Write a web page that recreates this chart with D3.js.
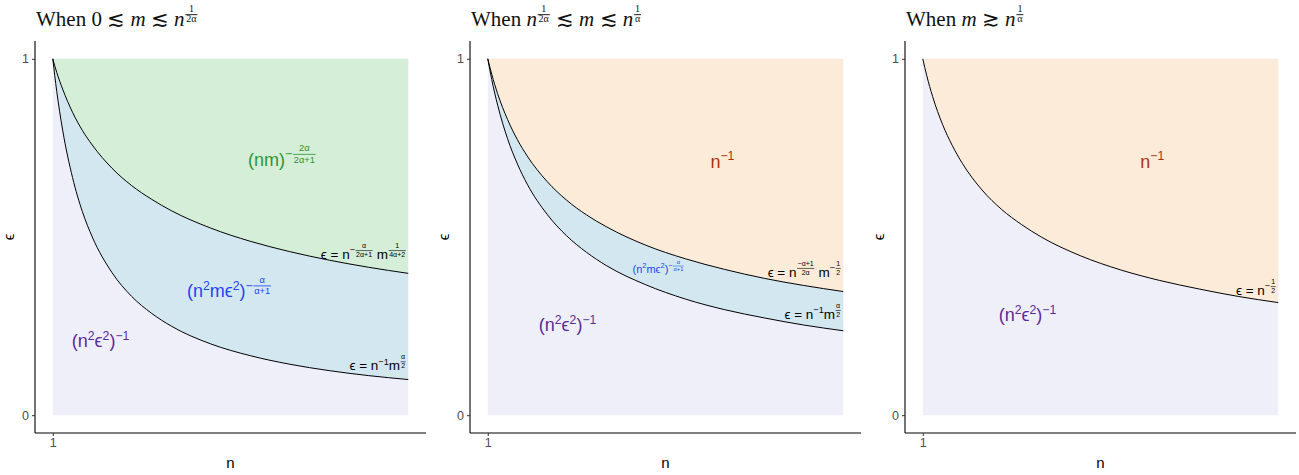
<!DOCTYPE html>
<html><head><meta charset="utf-8">
<script src="https://cdn.jsdelivr.net/npm/d3@7"></script>
<style>body{margin:0;background:#fff}svg{display:block}</style>
</head><body>
<svg id="chart" width="1299" height="475"></svg>
<script>
// ---- data ----
const nVals   = [1, 1.1, 1.25, 1.5, 1.75, 2, 2.5, 3, 3.5, 4, 5, 6, 7, 8, 9, 10];
const p1Upper = [1, 0.962, 0.915, 0.850, 0.799, 0.758, 0.693, 0.644, 0.606, 0.574, 0.525, 0.488, 0.459, 0.435, 0.415, 0.398];
const p1Lower = [1, 0.909, 0.800, 0.667, 0.571, 0.500, 0.400, 0.333, 0.286, 0.250, 0.200, 0.167, 0.143, 0.125, 0.111, 0.100];
const p2Upper = [1, 0.957, 0.902, 0.830, 0.773, 0.727, 0.656, 0.603, 0.562, 0.529, 0.477, 0.439, 0.409, 0.384, 0.364, 0.347];
const p2Lower = [1, 0.942, 0.870, 0.776, 0.705, 0.648, 0.564, 0.503, 0.457, 0.420, 0.366, 0.326, 0.296, 0.273, 0.253, 0.237];
const p3Curve = [1, 0.953, 0.894, 0.816, 0.756, 0.707, 0.632, 0.577, 0.535, 0.500, 0.447, 0.408, 0.378, 0.354, 0.333, 0.316];
const xTicks = [1], xTickLabels = ["1"];
const yTicks = [0, 1], yTickLabels = ["0", "1"];
const nDomain = [1, 10], epsDomain = [0, 1];

const C = {lav: "#efeffa", green: "#d5eed7", blue: "#d3e7f0", orange: "#fdebda",
  tGreen: "#2f9535", tBlue: "#1f44f2", tPurple: "#5a2a96", tRed: "#a5330c"};

const svg = d3.select("#chart");
const SANS = "'Liberation Sans', Arial, sans-serif";
const SERIF = "'Liberation Serif', 'DejaVu Serif', serif";

// small math-text layout helper
function mathText(g, x, y, parts, o) {
  const size = o.size;
  const fp = Object.assign({num: -0.8, bar: -0.63, den: -0.16, scale: 0.52}, o.frac || {});
  const grp = g.append("g").attr("fill", o.color || "#000").style("font-family", o.font || SANS);
  let cx = 0;
  const addText = (txt, xx, yy, fs, italic) => {
    const t = grp.append("text").attr("x", xx).attr("y", yy).style("font-size", fs + "px")
      .text(txt.replace(/ /g, "\u00a0"));
    if (italic) t.style("font-style", "italic");
    return t.node().getComputedTextLength();
  };
  parts.forEach(p => {
    if (typeof p === "string") { cx += addText(p, cx, 0, size, false); }
    else if (p.t !== undefined) { cx += addText(p.t, cx, 0, size, p.italic); }
    else if (p.sup !== undefined) { cx += addText(p.sup, cx, -size * 0.42, size * 0.68, p.italic); }
    else if (p.frac) {
      const fs = size * fp.scale;
      const pad = size * 0.08;
      const n = grp.append("text").attr("y", size * fp.num).style("font-size", fs + "px").attr("text-anchor", "middle").text(p.frac[0]);
      const d = grp.append("text").attr("y", size * fp.den).style("font-size", fs + "px").attr("text-anchor", "middle").text(p.frac[1]);
      const w = Math.max(n.node().getComputedTextLength(), d.node().getComputedTextLength()) + pad * 2;
      n.attr("x", cx + w / 2); d.attr("x", cx + w / 2);
      grp.append("line").attr("x1", cx + pad * 0.5).attr("x2", cx + w - pad * 0.5)
        .attr("y1", size * fp.bar).attr("y2", size * fp.bar)
        .attr("stroke", o.color || "#000").attr("stroke-width", Math.max(0.5, size * 0.045));
      cx += w;
    }
  });
  let dx = 0;
  if (o.anchor === "end") dx = -cx; else if (o.anchor === "middle") dx = -cx / 2;
  grp.attr("transform", `translate(${x + dx},${y})`);
}

const EPS = "\u03f5";
const panels = [
  {ox: 35,
   title: ["When 0 \u2272 ", {t: "m", italic: true}, " \u2272 ", {t: "n", italic: true}, {frac: ["1", "2\u03b1"]}],
   regions: [{lo: p1Upper, hi: null, fill: C.green}, {lo: p1Lower, hi: p1Upper, fill: C.blue}],
   curves: [p1Upper, p1Lower],
   labels: [
     {n: 6.81, e: 0.70, size: 18, color: C.tGreen, anchor: "middle", parts: ["(nm)", {sup: "\u2212"}, {frac: ["2\u03b1", "2\u03b1+1"]}]},
     {n: 5.47, e: 0.331, size: 18, color: C.tBlue, anchor: "middle", parts: ["(n", {sup: "2"}, "m" + EPS, {sup: "2"}, ")", {sup: "\u2212"}, {frac: ["\u03b1", "\u03b1+1"]}]},
     {n: 2.21, e: 0.19, size: 18, color: C.tPurple, anchor: "middle", parts: ["(n", {sup: "2"}, EPS, {sup: "2"}, ")", {sup: "\u22121"}]},
     {n: 9.95, e: 0.438, size: 13.5, color: "#000", anchor: "end", parts: [EPS + " = n", {sup: "\u2212"}, {frac: ["\u03b1", "2\u03b1+1"]}, " m", {frac: ["1", "4\u03b1+2"]}]},
     {n: 9.95, e: 0.126, size: 13.5, color: "#000", anchor: "end", parts: [EPS + " = n", {sup: "\u22121"}, "m", {frac: ["\u03b1", "2"]}]}
   ]},
  {ox: 470,
   title: ["When ", {t: "n", italic: true}, {frac: ["1", "2\u03b1"]}, " \u2272 ", {t: "m", italic: true}, " \u2272 ", {t: "n", italic: true}, {frac: ["1", "\u03b1"]}],
   regions: [{lo: p2Upper, hi: null, fill: C.orange}, {lo: p2Lower, hi: p2Upper, fill: C.blue}],
   curves: [p2Upper, p2Lower],
   labels: [
     {n: 6.94, e: 0.694, size: 18, color: C.tRed, anchor: "middle", parts: ["n", {sup: "\u22121"}]},
     {n: 5.32, e: 0.399, size: 11, color: C.tBlue, anchor: "middle", parts: ["(n", {sup: "2"}, "m" + EPS, {sup: "2"}, ")", {sup: "\u2212"}, {frac: ["\u03b1", "\u03b1+1"]}]},
     {n: 3.02, e: 0.236, size: 18, color: C.tPurple, anchor: "middle", parts: ["(n", {sup: "2"}, EPS, {sup: "2"}, ")", {sup: "\u22121"}]},
     {n: 9.95, e: 0.388, size: 13.5, color: "#000", anchor: "end", parts: [EPS + " = n", {frac: ["\u2212\u03b1+1", "2\u03b1"]}, " m", {sup: "\u2212"}, {frac: ["1", "2"]}]},
     {n: 9.95, e: 0.27, size: 13.5, color: "#000", anchor: "end", parts: [EPS + " = n", {sup: "\u22121"}, "m", {frac: ["\u03b1", "2"]}]}
   ]},
  {ox: 905,
   title: ["When ", {t: "m", italic: true}, " \u2273 ", {t: "n", italic: true}, {frac: ["1", "\u03b1"]}],
   regions: [{lo: p3Curve, hi: null, fill: C.orange}],
   curves: [p3Curve],
   labels: [
     {n: 6.81, e: 0.694, size: 18, color: C.tRed, anchor: "middle", parts: ["n", {sup: "\u22121"}]},
     {n: 3.65, e: 0.264, size: 18, color: C.tPurple, anchor: "middle", parts: ["(n", {sup: "2"}, EPS, {sup: "2"}, ")", {sup: "\u22121"}]},
     {n: 9.95, e: 0.337, size: 13.5, color: "#000", anchor: "end", parts: [EPS + " = n", {sup: "\u2212"}, {frac: ["1", "2"]}]}
   ]}
];

const PW = 391, yTop = 41, yBottom = 433;
panels.forEach(P => {
  const g = svg.append("g");
  const x = d3.scaleLinear().domain([nDomain[0] - 0.45, nDomain[1] + 0.45]).range([P.ox, P.ox + PW]);
  const y = d3.scaleLinear().domain([epsDomain[0] - 0.05, epsDomain[1] + 0.05]).range([yBottom, yTop]);

  g.append("rect").attr("x", x(nDomain[0])).attr("y", y(epsDomain[1]))
    .attr("width", x(nDomain[1]) - x(nDomain[0])).attr("height", y(epsDomain[0]) - y(epsDomain[1]))
    .attr("fill", C.lav);

  P.regions.forEach(r => {
    const data = nVals.map((n, i) => ({n, lo: r.lo[i], hi: r.hi ? r.hi[i] : epsDomain[1]}));
    const area = d3.area().x(d => x(d.n)).y0(d => y(d.lo)).y1(d => y(d.hi)).curve(d3.curveMonotoneX);
    g.append("path").attr("d", area(data)).attr("fill", r.fill);
  });
  P.curves.forEach(c => {
    const line = d3.line().x((d, i) => x(nVals[i])).y(d => y(d)).curve(d3.curveMonotoneX);
    g.append("path").attr("d", line(c)).attr("fill", "none").attr("stroke", "#000").attr("stroke-width", 1);
  });

  const xa = g.append("g").attr("transform", `translate(0,${yBottom})`)
    .call(d3.axisBottom(x).tickValues(xTicks).tickFormat((d, i) => xTickLabels[i]).tickSize(3).tickPadding(2));
  const ya = g.append("g").attr("transform", `translate(${P.ox},0)`)
    .call(d3.axisLeft(y).tickValues(yTicks).tickFormat((d, i) => yTickLabels[i]).tickSize(3).tickPadding(3));
  [xa, ya].forEach(a => {
    a.select(".domain").attr("stroke", "#000").attr("stroke-width", 1.1);
    a.selectAll(".tick line").attr("stroke", "#333");
    a.selectAll(".tick text").attr("fill", "#4d4d4d").style("font-size", "12.5px").style("font-family", SANS);
  });
  xa.select(".domain").attr("d", `M${P.ox},0H${P.ox + PW}`);
  ya.select(".domain").attr("d", `M0,${yTop}V${yBottom}`);

  g.append("text").attr("x", P.ox + PW / 2).attr("y", 468).attr("text-anchor", "middle")
    .style("font-family", SANS).style("font-size", "15px").text("n");
  g.append("text").attr("transform", `translate(${P.ox - 21},${(yTop + yBottom) / 2}) rotate(-90)`)
    .attr("text-anchor", "middle").style("font-family", SANS).style("font-size", "15px").text(EPS);

  mathText(g, P.ox + 1, 26, P.title, {size: 21, font: SERIF, color: "#111",
    frac: {num: -0.66, bar: -0.54, den: -0.2, scale: 0.48}});

  P.labels.forEach(L => mathText(g, x(L.n), y(L.e), L.parts, {size: L.size, color: L.color, anchor: L.anchor}));
});
</script>
</body></html>
